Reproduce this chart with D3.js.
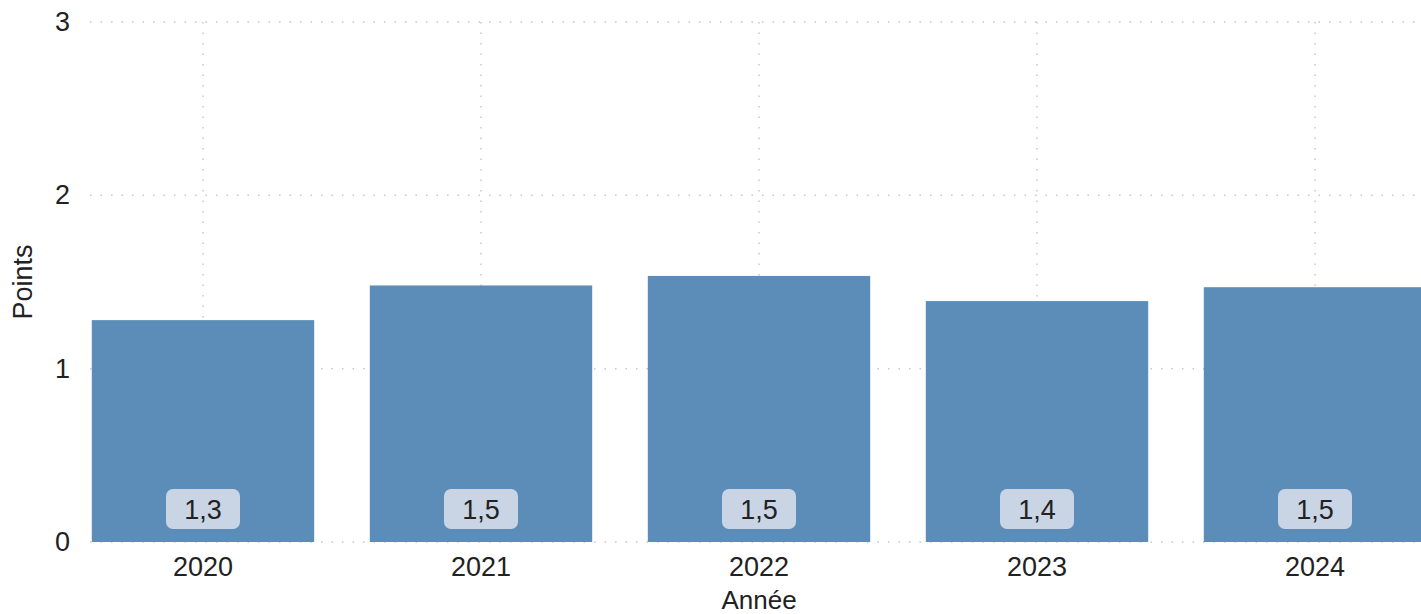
<!DOCTYPE html>
<html>
<head>
<meta charset="utf-8">
<script src="https://cdn.jsdelivr.net/npm/d3@7"></script>
<style>
  body { margin: 0; background: #fff; }
  text { font-family: "Liberation Sans", Arial, sans-serif; fill: #222; }
</style>
</head>
<body>
<div class="chart"></div>
<script>
// data
var years = ['2020', '2021', '2022', '2023', '2024'];
var points = [1.28, 1.48, 1.535, 1.39, 1.47];
var labels = ['1,3', '1,5', '1,5', '1,4', '1,5'];
var yTicks = [0, 1, 2, 3];

var width = 1421, height = 614;
var plotLeft = 90, plotRight = 1421, plotTop = 22, plotBottom = 542;

var svg = d3.select('.chart').append('svg')
  .attr('width', width)
  .attr('height', height);

// scales
var xScale = d3.scaleBand()
  .domain(years)
  .range([64, 1454])
  .paddingInner(0.2)
  .paddingOuter(0.1);

var yScale = d3.scaleLinear()
  .domain([0, 3])
  .range([plotBottom, plotTop]);

svg.append('clipPath').attr('id', 'plot')
  .append('rect')
  .attr('x', plotLeft).attr('y', 0)
  .attr('width', plotRight - plotLeft).attr('height', plotBottom + 1);

// grid
var grid = svg.append('g').attr('clip-path', 'url(#plot)');
grid.selectAll('.hgrid')
  .data(yTicks)
  .enter().append('line')
  .attr('x1', plotLeft).attr('x2', plotRight)
  .attr('y1', function(d){ return yScale(d); })
  .attr('y2', function(d){ return yScale(d); })
  .attr('stroke', '#c8c8c8')
  .attr('stroke-width', 1.5)
  .attr('stroke-dasharray', '1.5,9');

grid.selectAll('.vgrid')
  .data(years)
  .enter().append('line')
  .attr('x1', function(d){ return xScale(d) + xScale.bandwidth() / 2; })
  .attr('x2', function(d){ return xScale(d) + xScale.bandwidth() / 2; })
  .attr('y1', plotTop).attr('y2', plotBottom)
  .attr('stroke', '#c8c8c8')
  .attr('stroke-width', 1.5)
  .attr('stroke-dasharray', '1.5,9');

// bars
var bars = svg.append('g').attr('clip-path', 'url(#plot)');
bars.selectAll('rect')
  .data(points)
  .enter().append('rect')
  .attr('x', function(d, i){ return xScale(years[i]); })
  .attr('y', function(d){ return yScale(d); })
  .attr('width', xScale.bandwidth())
  .attr('height', function(d){ return plotBottom - yScale(d); })
  .attr('fill', '#5b8db8');

// value labels
var lab = bars.selectAll('.lab')
  .data(labels)
  .enter().append('g')
  .attr('transform', function(d, i){
    return 'translate(' + (xScale(years[i]) + xScale.bandwidth() / 2) + ',' + (plotBottom - 33) + ')';
  });
lab.append('rect')
  .attr('x', -37).attr('y', -20)
  .attr('width', 74).attr('height', 40)
  .attr('rx', 7)
  .attr('fill', '#c9d4e5');
lab.append('text')
  .attr('text-anchor', 'middle')
  .attr('dy', '0.36em')
  .style('font-size', '27px')
  .text(function(d){ return d; });

// axes
var xAxis = svg.append('g')
  .attr('transform', 'translate(0,' + plotBottom + ')')
  .call(d3.axisBottom(xScale).tickSize(0).tickPadding(15));
var yAxis = svg.append('g')
  .attr('transform', 'translate(' + plotLeft + ',0)')
  .call(d3.axisLeft(yScale).tickValues(yTicks).tickSize(0).tickPadding(20).tickFormat(d3.format('d')));
[xAxis, yAxis].forEach(function(a){
  a.select('.domain').remove();
  a.selectAll('text').style('font-size', '27px').attr('fill', '#222')
    .style('font-family', '"Liberation Sans", Arial, sans-serif');
});

// titles
svg.append('text')
  .attr('x', xScale('2022') + xScale.bandwidth() / 2)
  .attr('y', 609)
  .attr('text-anchor', 'middle')
  .style('font-size', '26px')
  .text('Année');

svg.append('text')
  .attr('transform', 'translate(32,282) rotate(-90)')
  .attr('text-anchor', 'middle')
  .style('font-size', '27px')
  .text('Points');
</script>
</body>
</html>
